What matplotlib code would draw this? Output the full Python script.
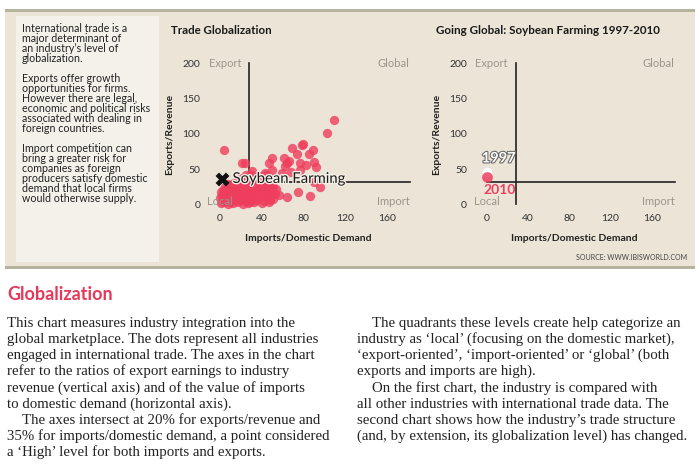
import matplotlib.pyplot as plt
import matplotlib.patheffects as pe
from matplotlib.patches import Rectangle

# Industries: imports/domestic demand (x) and exports/revenue (y)
ind_x = [109, 103, 4, 80, 79, 69, 89, 85, 74, 61, 66, 50, 47, 24, 21, 64, 90, 92, 77, 82,
         50, 59, 68, 77, 96, 90, 86, 75, 57, 64, 48, 30, 31, 43, 62,
         1, 4, 8, 12, 17, 22, 27, 33, 40,
         2, 6, 10, 14, 19, 24, 29, 35, 42, 47,
         0, 3, 7, 11, 15, 20, 25, 30, 36, 44, 51,
         2, 5, 9, 13, 18, 23, 28, 34, 39, 46, 53,
         1, 4, 8, 12, 16, 21, 26, 31, 37, 43, 49,
         3, 7, 11, 15, 20, 25, 30, 35, 41, 48, 54,
         5, 9, 14, 19, 24, 29, 34, 40, 45, 51,
         8, 13, 18, 23, 28, 33, 38, 44, 50,
         16, 22, 27, 32, 37, 42, 48,
         20, 26, 31, 36, 41, 46, 52,
         25, 30, 37, 44]
ind_y = [120, 101, 77, 86, 84, 80, 77, 72, 71, 65, 62, 65, 59, 58, 59, 58, 60, 53, 58, 56,
         49, 45, 46, 49, 24, 32, 12, 18, 13, 11, 6, 34, 47, 44, 55,
         2, 3, 1, 2, 3, 1, 2, 3, 2,
         5, 6, 4, 5, 6, 5, 4, 6, 5, 4,
         9, 8, 10, 9, 8, 9, 10, 8, 9, 10, 8,
         13, 14, 12, 13, 14, 12, 13, 14, 12, 13, 14,
         17, 16, 18, 17, 16, 18, 17, 16, 18, 17, 16,
         21, 22, 20, 21, 22, 20, 21, 22, 20, 21, 22,
         25, 24, 26, 25, 24, 26, 25, 24, 26, 25,
         29, 30, 28, 29, 30, 28, 29, 30, 28,
         33, 34, 32, 33, 34, 32, 33,
         37, 38, 36, 37, 38, 36, 37,
         41, 42, 40, 41]

soy_x, soy_y = 2, 36
years = ['1997', '2010']
soy_hist_x = [0, 0.5]
soy_hist_y = [46, 39]

thr_x, thr_y = 28, 31
xticks = [0, 40, 80, 120, 160]
yticks = [0, 50, 100, 150, 200]

BG = '#ebe4d7'
BOX = '#f4f1eb'
RED = '#ef3e5e'
GREY = '#9b958b'
SANS = 'Lato'


def px(x, y):
    return x / 700, 1 - y / 472


fig = plt.figure(figsize=(7, 4.72), dpi=100)
fig.patch.set_facecolor('white')

# top panel and borders
fig.add_artist(Rectangle(px(5, 267), 690 / 700, 257 / 472, transform=fig.transFigure,
                         facecolor=BG, edgecolor='none', zorder=0))
fig.add_artist(Rectangle(px(5, 12), 690 / 700, 3 / 472, transform=fig.transFigure,
                         facecolor='#b7b29d', edgecolor='none', zorder=0))
fig.add_artist(Rectangle(px(5, 269), 690 / 700, 3 / 472, transform=fig.transFigure,
                         facecolor='#b7b29d', edgecolor='none', zorder=0))
fig.add_artist(Rectangle(px(16, 262), 143 / 700, 246 / 472, transform=fig.transFigure,
                         facecolor=BOX, edgecolor='none', zorder=0))

side_lines = [
    (29, "International trade is a"), (39, "major determinant of"),
    (49, "an industry\u2019s level of"), (59, "globalization."),
    (79, "Exports offer growth"), (89, "opportunities for firms."),
    (99, "However there are legal,"), (109, "economic and political risks"),
    (119, "associated with dealing in"), (129, "foreign countries."),
    (149, "Import competition can"), (159, "bring a greater risk for"),
    (169, "companies as foreign"), (179, "producers satisfy domestic"),
    (189, "demand that local firms"), (199, "would otherwise supply."),
]
for yy, t in side_lines:
    fig.text(*px(22, yy), t, fontsize=7.7, family=SANS, color='#222222', va='center')


def quad_chart(ax):
    ax.set_facecolor('none')
    for s in ax.spines.values():
        s.set_visible(False)
    ax.set_xlim(-15, 185)
    ax.set_ylim(-8, 205)
    ax.set_xticks(xticks)
    ax.set_yticks(yticks)
    ax.tick_params(length=0, labelsize=7.5, labelcolor='#333333', pad=3)
    for lab in ax.get_xticklabels() + ax.get_yticklabels():
        lab.set_family(SANS)
    ax.plot([thr_x, thr_x], [0, 200], color='#222222', lw=1.2, zorder=1)
    ax.plot([0, 182], [thr_y, thr_y], color='#222222', lw=1.2, zorder=1)
    ax.text(-11, 200, 'Export', color=GREY, fontsize=8, family=SANS, va='center', ha='left')
    ax.text(182, 200, 'Global', color=GREY, fontsize=8, family=SANS, va='center', ha='right')
    ax.text(-12.5, 4, 'Local', color=GREY, fontsize=8, family=SANS, va='center', ha='left', zorder=4)
    ax.text(182, 4, 'Import', color=GREY, fontsize=8, family=SANS, va='center', ha='right')
    ax.set_ylabel('Exports/Revenue', fontsize=7.5, family=SANS, fontweight='bold', color='#222222')
    ax.set_xlabel('Imports/Domestic Demand', fontsize=7.5, family=SANS, fontweight='bold', color='#222222')
    ax.yaxis.set_label_coords(-0.146, 0.5)
    ax.xaxis.set_label_coords(0.5, -0.162)


# left chart
ax1 = fig.add_axes([204.4 / 700, 1 - 210 / 472, 208.5 / 700, 150.4 / 472])
quad_chart(ax1)
ax1.scatter(ind_x, ind_y, s=45, color=RED, alpha=0.8, linewidths=0, zorder=2)
ax1.scatter([soy_x], [soy_y], marker='X', s=100, color='#111111', linewidths=0, zorder=5)
ax1.text(12, soy_y, 'Soybean Farming', fontsize=10.7, family=SANS, color='#1a1a1a', va='center', zorder=5,
         path_effects=[pe.withStroke(linewidth=2, foreground='#f3eee6')])
fig.text(*px(171, 30), 'Trade Globalization', fontsize=8.3, family=SANS, fontweight='bold',
         color='#1a1a1a', va='center')

# right chart
ax2 = fig.add_axes([471.2 / 700, 1 - 210 / 472, 206.5 / 700, 150.4 / 472])
quad_chart(ax2)
ax2.scatter(soy_hist_x[:1], soy_hist_y[:1], s=60, color='white', edgecolors='#dddddd', linewidths=0.5, zorder=3)
ax2.scatter(soy_hist_x[1:], soy_hist_y[1:], s=60, color=RED, alpha=0.85, linewidths=0, zorder=4)
ax2.text(-4.8, 65, years[0], fontsize=10.5, family=SANS, fontweight='bold', color='white', va='center',
         zorder=5, path_effects=[pe.withStroke(linewidth=1.5, foreground='#666666')])
ax2.text(-3.3, 21, years[1], fontsize=10, family=SANS, fontweight='bold', color=RED, va='center', zorder=5)
fig.text(*px(436, 30), 'Going Global: Soybean Farming 1997-2010', fontsize=8.4, family=SANS,
         fontweight='bold', color='#1a1a1a', va='center')

fig.text(*px(687, 258), 'SOURCE: WWW.IBISWORLD.COM', fontsize=5, family=SANS, color='#444444',
         ha='right', va='center')

# article text
fig.text(*px(7, 294), 'Globalization', fontsize=13, family=SANS, fontweight='bold', color='#e8385a', va='center')

left_col = [
    (7, "This chart measures industry integration into the"),
    (7, "global marketplace. The dots represent all industries"),
    (7, "engaged in international trade. The axes in the chart"),
    (7, "refer to the ratios of export earnings to industry"),
    (7, "revenue (vertical axis) and of the value of imports"),
    (7, "to domestic demand (horizontal axis)."),
    (22, "The axes intersect at 20% for exports/revenue and"),
    (7, "35% for imports/domestic demand, a point considered"),
    (7, "a \u2018High\u2019 level for both imports and exports."),
]
right_col = [
    (372, "The quadrants these levels create help categorize an"),
    (357, "industry as \u2018local\u2019 (focusing on the domestic market),"),
    (357, "\u2018export-oriented\u2019, \u2018import-oriented\u2019 or \u2018global\u2019 (both"),
    (357, "exports and imports are high)."),
    (372, "On the first chart, the industry is compared with"),
    (357, "all other industries with international trade data. The"),
    (357, "second chart shows how the industry\u2019s trade structure"),
    (357, "(and, by extension, its globalization level) has changed."),
]
for i, (xx, t) in enumerate(left_col):
    fig.text(*px(xx, 323 + i * 16.2), t, fontsize=10.7, family='Liberation Serif', color='#222222', va='center')
for i, (xx, t) in enumerate(right_col):
    fig.text(*px(xx, 323 + i * 16.2), t, fontsize=10.7, family='Liberation Serif', color='#222222', va='center')

fig.savefig('out.png', dpi=100, facecolor=fig.get_facecolor())
